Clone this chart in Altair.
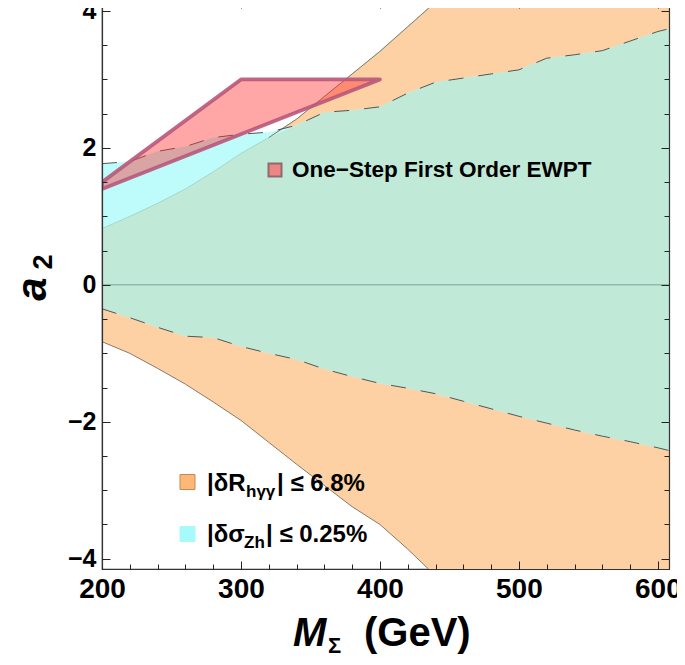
import altair as alt
import pandas as pd

# ---------------- data ----------------
M = [200, 220, 240, 260, 280, 300, 320, 340, 360, 380, 400, 420, 440, 460,
     480, 500, 520, 540, 560, 580, 600, 610]
orange_upper = [0.82, 1.00, 1.19, 1.40, 1.65, 1.92, 2.15, 2.42, 2.75, 3.08, 3.41,
                3.77, 4.13, 4.50, 4.85, 5.20, 5.55, 5.90, 6.25, 6.60, 6.95, 7.10]
orange_lower = [-0.83, -1.00, -1.22, -1.45, -1.71, -1.98, -2.30, -2.62, -2.93, -3.24,
                -3.50, -3.86, -4.25, -4.60, -4.95, -5.30, -5.65, -6.00, -6.35, -6.70,
                -7.05, -7.20]
cyan_upper = [1.77, 1.80, 1.95, 2.02, 2.15, 2.20, 2.23, 2.33, 2.52, 2.55, 2.60,
              2.80, 2.96, 3.02, 3.08, 3.14, 3.31, 3.36, 3.42, 3.56, 3.70, 3.75]
cyan_lower = [-0.35, -0.48, -0.62, -0.75, -0.77, -0.90, -1.00, -1.09, -1.23, -1.34,
              -1.44, -1.51, -1.59, -1.70, -1.81, -1.92, -2.02, -2.12, -2.21, -2.29,
              -2.38, -2.43]

ewpt_M = [200, 300, 400]
ewpt_upper = [1.5, 3.0, 3.0]
ewpt_lower = [1.4, 2.2, 3.0]
ewpt_outline_M = [200, 300, 400, 200, 200]
ewpt_outline_a = [1.5, 3.0, 3.0, 1.4, 1.5]

x_major = [200, 300, 400, 500, 600]
x_minor = [200, 220, 240, 260, 280, 300, 320, 340, 360, 380, 400, 420, 440, 460,
           480, 500, 520, 540, 560, 580, 600]
y_major = [-4, -2, 0, 2, 4]
y_minor = [-4.0, -3.5, -3.0, -2.5, -2.0, -1.5, -1.0, -0.5, 0.0, 0.5, 1.0, 1.5,
           2.0, 2.5, 3.0, 3.5, 4.0]
zero_line = [0]

legend_R = ["|δR", "hγγ", "| ≤ 6.8%"]
legend_S = ["|δσ", "Zh", "| ≤ 0.25%"]
ewpt_label = ["One−Step First Order EWPT"]
x_title = ["M", "Σ", "(GeV)"]
y_title = ["a", "2"]

# ---------------- tables ----------------
curves = pd.DataFrame({"M": M, "ou": orange_upper, "ol": orange_lower,
                       "cu": cyan_upper, "cl": cyan_lower})
curves["tu"] = curves[["ou", "cu"]].min(axis=1)
pink = pd.DataFrame({"M": ewpt_M, "up": ewpt_upper, "lo": ewpt_lower})
pink_path = pd.DataFrame({"M": ewpt_outline_M, "a": ewpt_outline_a,
                          "i": list(range(len(ewpt_outline_M)))})
zero_df = pd.DataFrame({"y": zero_line})

FONT = "Liberation Sans"
xs = alt.Scale(domain=[200, 608], nice=False, zero=False)
ys = alt.Scale(domain=[-4.15, 4.16], nice=False, zero=False)


def X(f):
    return alt.X(f, type="quantitative", scale=xs, axis=None)


def Y(f):
    return alt.Y(f, type="quantitative", scale=ys, axis=None)


orange_area = alt.Chart(curves).mark_area(clip=True, color="#FDD1A4", orient="vertical").encode(
    x=X("M"), y=Y("ol"), y2="ou")
cyan_area = alt.Chart(curves).mark_area(clip=True, color="#BEFCFC", orient="vertical").encode(
    x=X("M"), y=Y("cl"), y2="cu")
teal_area = alt.Chart(curves).mark_area(clip=True, color="#C0EAD7", orient="vertical").encode(
    x=X("M"), y=Y("cl"), y2="tu")

orange_lo_line = alt.Chart(curves).mark_line(clip=True, color="#8a7a6a", strokeWidth=1).encode(
    x=X("M"), y=Y("ol"))
orange_up_faint = alt.Chart(curves).mark_line(clip=True, color="#a6d8c8", strokeWidth=1).encode(
    x=X("M"), y=Y("ou"))
orange_up_line = alt.Chart(curves).transform_filter("datum.M >= 320").mark_line(
    clip=True, color="#8a7a6a", strokeWidth=1).encode(x=X("M"), y=Y("ou"))
cyan_up_line = alt.Chart(curves).mark_line(clip=True, color="#555555", strokeWidth=1,
                                           strokeDash=[15, 15]).encode(x=X("M"), y=Y("cu"))
cyan_lo_line = alt.Chart(curves).mark_line(clip=True, color="#555555", strokeWidth=1,
                                           strokeDash=[15, 15]).encode(x=X("M"), y=Y("cl"))

zero_rule = alt.Chart(zero_df).mark_rule(color="#8fbcad", strokeWidth=1.5).encode(y=Y("y"))

pink_area = alt.Chart(pink).mark_area(clip=True, color="#ff2a2a", opacity=0.42,
                                      orient="vertical").encode(x=X("M"), y=Y("lo"), y2="up")
pink_line = alt.Chart(pink_path).mark_line(clip=True, color="#b8587a", strokeWidth=3.8,
                                           strokeJoin="round", opacity=0.9).encode(
    x=X("M"), y=Y("a"), order=alt.Order("i:Q"))


# ---------------- frame ticks & labels (axes) ----------------
def ax(orient, values, labels=False, ticks=False, size=0, offset=0, domain=False, fs=25):
    kw = dict(orient=orient, values=values, grid=False, title=None, zindex=1,
              domain=domain, ticks=ticks, labels=labels)
    if domain:
        kw.update(domainColor="#333333", domainWidth=1.2)
    if ticks:
        kw.update(tickSize=size, offset=offset, tickColor="#222222", tickWidth=1)
    if labels:
        kw.update(labelFont=FONT, labelFontSize=fs, labelFontWeight="bold",
                  labelColor="black", labelFlush=False, labelPadding=6)
    return alt.Axis(**kw)


def axis_layer(xa, ya):
    return alt.Chart(curves).mark_point(opacity=0).encode(
        x=alt.X("M", type="quantitative", scale=xs, axis=xa),
        y=alt.Y("cl", type="quantitative", scale=ys, axis=ya))


axes = [
    axis_layer(ax("bottom", x_major, labels=True, domain=True, fs=28),
               ax("left", y_major, labels=True, domain=True, fs=25)),
    axis_layer(ax("bottom", x_major, ticks=True, size=8, offset=-8),
               ax("left", y_major, ticks=True, size=8, offset=-8)),
    axis_layer(ax("bottom", x_minor, ticks=True, size=5, offset=-5),
               ax("left", y_minor, ticks=True, size=5, offset=-5)),
    axis_layer(ax("top", x_major, ticks=True, size=8, offset=-8),
               ax("right", y_major, ticks=True, size=8, offset=-8)),
    axis_layer(ax("top", x_minor, ticks=True, size=5, offset=-5),
               ax("right", y_minor, ticks=True, size=5, offset=-5)),
    axis_layer(ax("top", x_major, domain=True), ax("right", y_major, domain=True)),
]


# ---------------- text & legend ----------------
def txt(s, x, y, size, style="normal", angle=0, align="left"):
    return alt.Chart(pd.DataFrame({"t": [s]})).mark_text(
        font=FONT, fontSize=size, fontWeight="bold", fontStyle=style, align=align,
        baseline="alphabetic", angle=angle, color="black").encode(
        x=alt.value(x), y=alt.value(y), text="t:N")


def swatch(x, y, fill, stroke, size, sw=1.0):
    return alt.Chart(pd.DataFrame({"t": [0]})).mark_square(
        size=size * size, fill=fill, stroke=stroke, strokeWidth=sw, opacity=1,
        filled=True).encode(x=alt.value(x), y=alt.value(y))


texts = [
    swatch(85.5, 482, "#FDB877", "#c28a55", 15),
    txt(legend_R[0], 105, 491, 24),
    txt(legend_R[1], 144, 497, 17),
    txt(legend_R[2], 175, 491, 24),
    swatch(85.5, 534, "#A6FAFA", "#A6FAFA", 15),
    txt(legend_S[0], 105, 542, 24),
    txt(legend_S[1], 142, 548, 17),
    txt(legend_S[2], 164, 542, 24),
    swatch(173, 170, "#EE8585", "#8e6a6a", 13, 2),
    txt(ewpt_label[0], 190, 177, 22.5),
    txt(x_title[0], 191, 646, 40, style="italic"),
    txt(x_title[1], 226, 653, 22),
    txt(x_title[2], 262, 646, 40),
    txt(y_title[0], -56, 289, 42, style="italic", angle=270, align="center"),
    txt(y_title[1], -50, 262, 27, angle=270, align="center"),
]

chart = alt.layer(
    orange_area, cyan_area, teal_area,
    orange_lo_line, orange_up_faint, orange_up_line, cyan_up_line, cyan_lo_line,
    zero_rule, pink_area, pink_line,
    *axes, *texts
).resolve_scale(x="shared", y="shared").resolve_axis(
    x="independent", y="independent"
).properties(
    width=567, height=569,
    autosize=alt.AutoSizeParams(type="none"),
    padding={"left": 94, "top": -8, "right": 8, "bottom": 88},
).configure_view(stroke="#333333", strokeWidth=1.2)

chart.save("out.html", embed_options={"renderer": "svg", "actions": False})
